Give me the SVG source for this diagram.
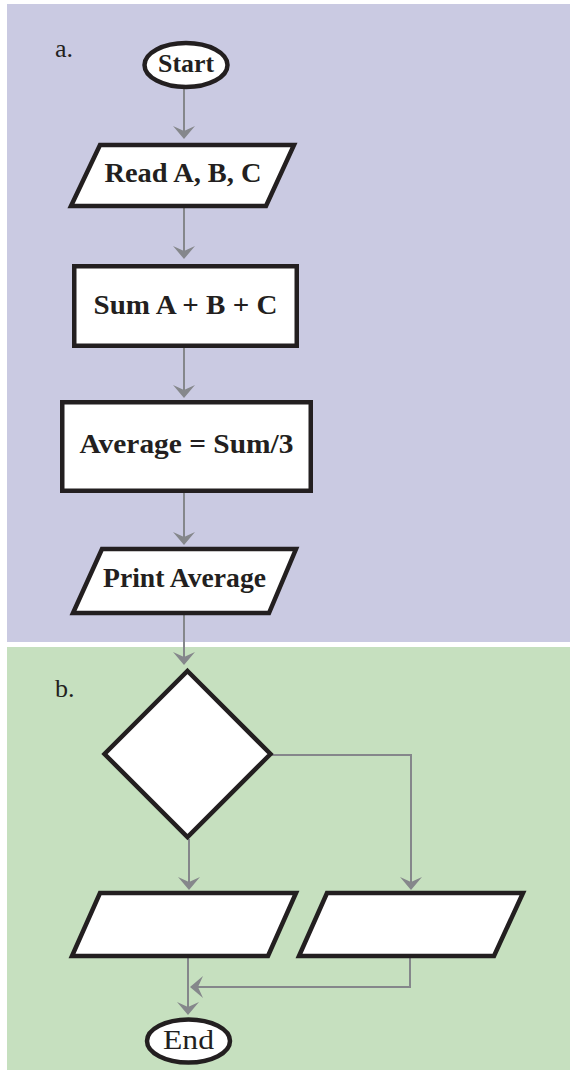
<svg xmlns="http://www.w3.org/2000/svg" width="570" height="1070" viewBox="0 0 570 1070">
  <style>
    .shape { fill: #ffffff; stroke: #231f20; stroke-width: 4.5; stroke-linejoin: miter; }
    .conn { fill: none; stroke: #85878b; stroke-width: 2; }
    .lbl { font-family: "Liberation Serif", "DejaVu Serif", serif; font-weight: bold; font-size: 27px; fill: #231f20; text-anchor: middle; }
    .tag { font-family: "Liberation Serif", "DejaVu Serif", serif; font-size: 26px; fill: #231f20; }
  </style>
  <defs>
    <marker id="arr" markerUnits="userSpaceOnUse" viewBox="-8 -12 16 24" markerWidth="16" markerHeight="24" refX="0" refY="0" orient="auto">
      <path d="M6,0 L-7,-11 L-2,0 L-7,11 Z" fill="#85878b"/>
    </marker>
  </defs>

  <!-- backgrounds -->
  <rect x="7" y="4" width="563" height="638" fill="#cacae2"/>
  <rect x="7" y="647" width="563" height="423" fill="#c6e0bf"/>

  <text class="tag" x="55" y="57">a.</text>
  <text class="tag" x="55" y="697">b.</text>

  <g id="connectors">
    <line class="conn" x1="184" y1="89" x2="184" y2="133" marker-end="url(#arr)"/>
    <line class="conn" x1="184" y1="208" x2="184" y2="253" marker-end="url(#arr)"/>
    <line class="conn" x1="184" y1="348" x2="184" y2="392" marker-end="url(#arr)"/>
    <line class="conn" x1="184" y1="493" x2="184" y2="539" marker-end="url(#arr)"/>
    <line class="conn" x1="184" y1="615" x2="184" y2="659" marker-end="url(#arr)"/>
    <line class="conn" x1="189" y1="839" x2="189" y2="884" marker-end="url(#arr)"/>
    <polyline class="conn" points="272,755 411,755 411,884" marker-end="url(#arr)"/>
    <line class="conn" x1="188" y1="958" x2="188" y2="1009" marker-end="url(#arr)"/>
    <polyline class="conn" points="410,958 410,987 196,987" marker-end="url(#arr)"/>
  </g>

  <g id="start">
    <ellipse class="shape" cx="186" cy="65" rx="41.5" ry="22"/>
    <text class="lbl" x="186" y="72" style="font-size:26px" textLength="56" lengthAdjust="spacingAndGlyphs">Start</text>
  </g>
  <g id="read">
    <polygon class="shape" points="100,145 294,145 266,206 71,206"/>
    <text class="lbl" x="183" y="182" textLength="157" lengthAdjust="spacingAndGlyphs">Read A, B, C</text>
  </g>
  <g id="sum">
    <rect class="shape" x="74.25" y="266.25" width="222.5" height="79.5"/>
    <text class="lbl" x="185.5" y="314" textLength="184" lengthAdjust="spacingAndGlyphs">Sum A + B + C</text>
  </g>
  <g id="average">
    <rect class="shape" x="62.25" y="402.25" width="248.5" height="88.5"/>
    <text class="lbl" x="186.5" y="453" textLength="214" lengthAdjust="spacingAndGlyphs">Average = Sum/3</text>
  </g>
  <g id="print">
    <polygon class="shape" points="102,549 296,549 269,613 73,613"/>
    <text class="lbl" x="184.5" y="587" textLength="163" lengthAdjust="spacingAndGlyphs">Print Average</text>
  </g>
  <g id="decision">
    <polygon class="shape" points="187.5,671 270.5,754 187.5,837 104.5,754"/>
  </g>
  <g id="output-left">
    <polygon class="shape" points="100,893 296,893 268,956 72,956"/>
  </g>
  <g id="output-right">
    <polygon class="shape" points="327,893 523,893 494,956 299,956"/>
  </g>
  <g id="end">
    <ellipse class="shape" cx="188.5" cy="1041" rx="41.5" ry="21.5"/>
    <text class="lbl" x="188.5" y="1049" style="font-weight:normal" textLength="51" lengthAdjust="spacingAndGlyphs">End</text>
  </g>
</svg>
